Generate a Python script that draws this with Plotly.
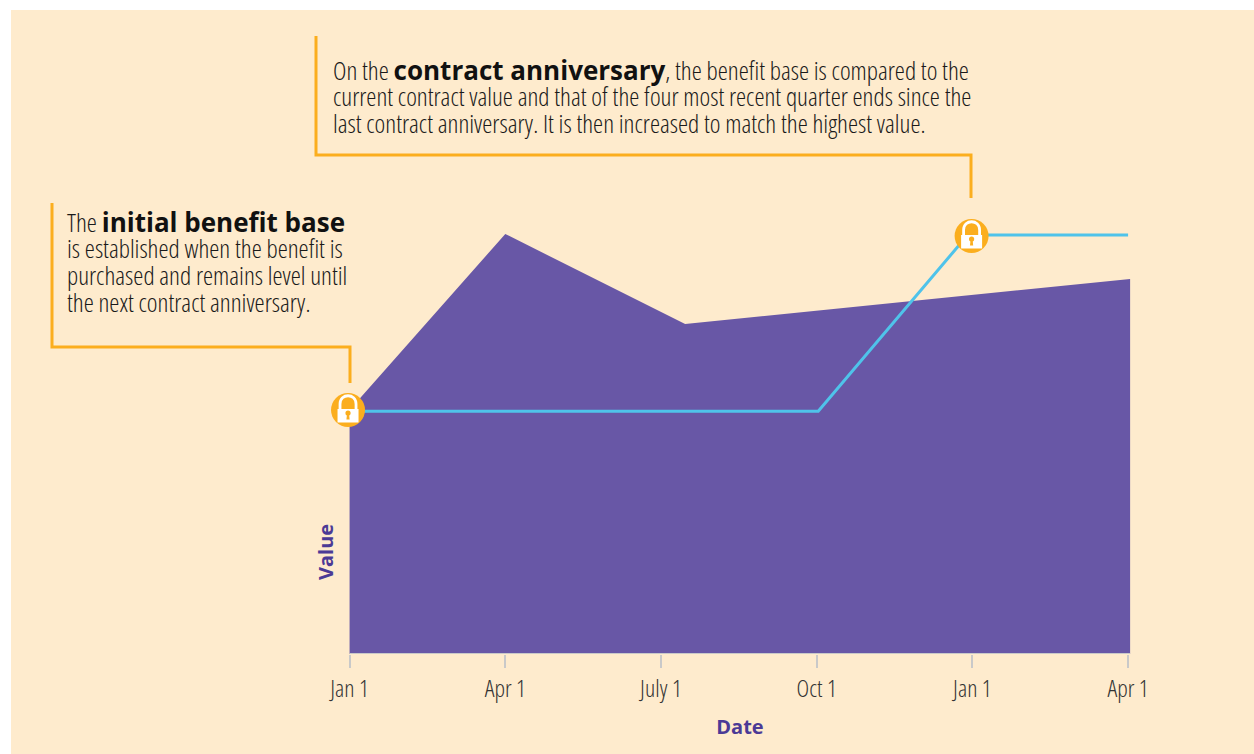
import plotly.graph_objects as go

# Data (x is the position on the quarterly axis, y an unscaled value)
tick_positions = [0, 1, 2, 3, 4, 5]
tick_labels = ["Jan 1", "Apr 1", "July 1", "Oct 1", "Jan 1", "Apr 1"]
area_x = [0, 1, 2.155, 5.013]
area_y = [244, 420, 330, 375]
base_x = [0, 3.01, 3.97, 5]
base_y = [242.7, 242.7, 419, 419]
lock_x = [-0.01, 3.995]
lock_y = [244, 418]
axis_line_x = [0, 5.013]
axis_line_y = [0, 0]

BOLD_SPAN = '<span style="font-family:Open Sans;font-size:26px;font-stretch:100%%;fill:#111111"><b>%s</b></span>'
TITLE_SPAN = '<span style="font-stretch:100%%"><b>%s</b></span>'
note_top = [
    "On the " + BOLD_SPAN % "contract anniversary" + ", the benefit base is compared to the",
    "current contract value and that of the four most recent quarter ends since the",
    "last contract anniversary. It is then increased to match the highest value.",
]
note_left = [
    "The " + BOLD_SPAN % "initial benefit base",
    "is established when the benefit is",
    "purchased and remains level until",
    "the next contract anniversary.",
]

W, H = 1254, 754
L, R, T, B = 320, 1160, 190, 654
XMIN = -0.19
XMAX = XMIN + (R - L) / 155.7
YMAX = B - T

PURPLE = "#6857A6"
CREAM = "#FEEBCD"
ORANGE = "#FBAE1E"
CYAN = "#4FC3EA"
TITLE = "#4B3A96"
BOLD = "Open Sans"
COND = dict(family="Open Sans", weight=300)


def px(x):
    return (x - L) / (R - L)


def py(y):
    return (B - y) / (B - T)


fig = go.Figure()
fig.add_trace(go.Scatter(x=area_x, y=area_y, mode="lines", fill="tozeroy",
                         fillcolor=PURPLE, line=dict(color=PURPLE, width=0),
                         hoverinfo="skip", showlegend=False))
fig.add_trace(go.Scatter(x=axis_line_x, y=axis_line_y, mode="lines",
                         line=dict(color="#C9C9C9", width=2), cliponaxis=False,
                         hoverinfo="skip", showlegend=False))
fig.add_trace(go.Scatter(x=base_x, y=base_y, mode="lines",
                         line=dict(color=CYAN, width=3),
                         hoverinfo="skip", showlegend=False))
fig.add_trace(go.Scatter(x=lock_x, y=lock_y, mode="markers",
                         marker=dict(color=ORANGE, size=34),
                         hoverinfo="skip", showlegend=False))

shapes = [
    dict(type="rect", xref="paper", yref="paper", x0=px(11), x1=px(W + 5),
         y0=py(H + 5), y1=py(10), fillcolor=CREAM, line_width=0, layer="below"),
]
for pts in ([(316, 36), (316, 155), (971, 155), (971, 198)],
            [(52, 203), (52, 347), (350, 347), (350, 383)]):
    d = "M" + " L".join(f"{px(a)},{py(b)}" for a, b in pts)
    shapes.append(dict(type="path", xref="paper", yref="paper", path=d,
                       line=dict(color=ORANGE, width=3)))

for lx, ly in zip(lock_x, lock_y):
    anchor = dict(xref="x", yref="y", xsizemode="pixel", ysizemode="pixel",
                  xanchor=lx, yanchor=ly, layer="above")
    shapes.append(dict(type="rect", x0=-10.5, x1=10.5, y0=-12.5, y1=1,
                       fillcolor="white", line_width=0, **anchor))
    shapes.append(dict(type="path",
                       path="M-8,1 L-8,6 C-8,17 8,17 8,6 L8,1",
                       line=dict(color="white", width=2.8), **anchor))
    shapes.append(dict(type="circle", x0=-2.6, x1=2.6, y0=-5.6, y1=-0.4,
                       fillcolor=ORANGE, line_width=0, **anchor))
    shapes.append(dict(type="path", path="M-1,-4 L1,-4 L1.6,-9.5 L-1.6,-9.5 Z",
                       fillcolor=ORANGE, line_width=0, **anchor))

annotations = []
for text, y in zip(note_top, [69.5, 96.5, 122.5]):
    annotations.append(dict(text=text, x=px(331), y=py(y), xref="paper", yref="paper",
                            xanchor="left", yanchor="middle", align="left", showarrow=False,
                            font=dict(size=25.5, color="#1A1A1A", **COND)))
for text, y in zip(note_left, [222, 247.5, 274.5, 301.5]):
    annotations.append(dict(text=text, x=px(65), y=py(y), xref="paper", yref="paper",
                            xanchor="left", yanchor="middle", align="left", showarrow=False,
                            font=dict(size=25.5, color="#1A1A1A", **COND)))
annotations.append(dict(text=TITLE_SPAN % "Value", x=px(325), y=py(552), xref="paper", yref="paper",
                        textangle=-90, showarrow=False, xanchor="center", yanchor="middle",
                        font=dict(family=BOLD, size=20, color=TITLE)))

fig.update_layout(
    width=W, height=H, autosize=False,
    margin=dict(l=L, r=W - R, t=T, b=H - B, pad=0),
    paper_bgcolor="white", plot_bgcolor="rgba(0,0,0,0)",
    shapes=shapes, annotations=annotations, showlegend=False,
    xaxis=dict(range=[XMIN, XMAX], tickmode="array", tickvals=tick_positions,
               ticktext=tick_labels, ticks="outside", ticklen=13, tickwidth=2,
               tickcolor="#C9C9C9", showgrid=False, zeroline=False, showline=False,
               tickfont=dict(size=24, color="#333333", **COND),
               title=dict(text="<b>Date</b>", standoff=17,
                          font=dict(family=BOLD, size=20, color=TITLE))),
    yaxis=dict(range=[0, YMAX], visible=False),
)

STRETCH_CSS = "var s=document.createElement('style');s.textContent='.annotation-text,.xtick text{font-stretch:75%}';document.head.appendChild(s);"
REDRAW = "Plotly.redraw(document.getElementById('{plot_id}'));"
fig.write_html("out.html", config=dict(displayModeBar=False),
               post_script="document.body.style.margin='0';" + STRETCH_CSS + REDRAW)
